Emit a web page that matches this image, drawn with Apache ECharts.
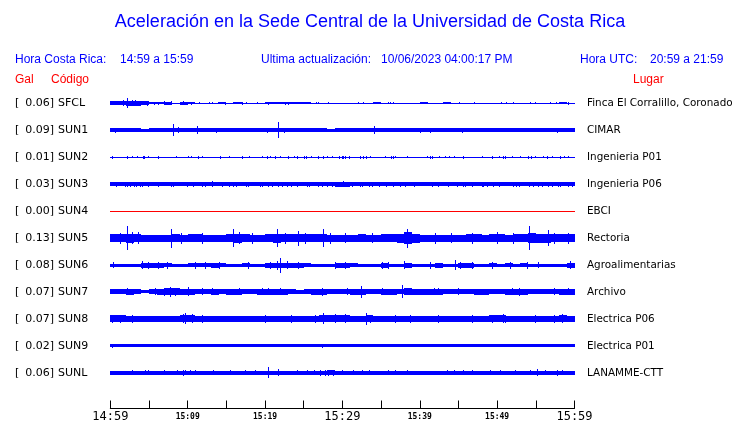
<!DOCTYPE html>
<html><head><meta charset="utf-8">
<script src="https://cdn.jsdelivr.net/npm/echarts@6/dist/echarts.min.js"></script>
<style>html,body{margin:0;padding:0;background:#fff}#c{width:740px;height:423px}</style>
</head><body><div id="c"></div>
<script>
// ---- data ----
const codes = ['SFCL','SUN1','SUN2','SUN3','SUN4','SUN5','SUN6','SUN7','SUN8','SUN9','SUNL'];
const galPeaks = ['0.06','0.09','0.01','0.03','0.00','0.13','0.08','0.07','0.07','0.02','0.06'];
const places = ['Finca El Corralillo, Coronado','CIMAR','Ingenieria P01','Ingenieria P06','EBCI','Rectoria','Agroalimentarias','Archivo','Electrica P06','Electrica P01','LANAMME-CTT'];
const tickLabels = ['14:59','15:04','15:09','15:14','15:19','15:24','15:29','15:34','15:39','15:44','15:49','15:54','15:59'];

// envelope half-amplitude per minute (60 minutes from 14:59) and spikes [minute, half-amplitude]
const sfclBand = [2,2,2.5,2.5,2, 1,1,1.5,0.5,1.5, 1,0.5,0.5,0.5,1, 0.5,1.2,0.5,0.5,0.5, 1.2,1.2,0.8,1.2,1.2, 1.2,0.5,0.5,0.5,0.5, 0.5,0.5,0.5,0.5,1.2, 0.5,0.5,0.5,0.5,0.5, 1,0.5,0.5,1.2,0.5, 0.5,0.5,0.5,0.5,0.5, 0.5,0.5,0.5,0.5,0.5, 0.5,0.5,0.5,1,0.5];
const sfclSpikes = [[1.7,3],[2.2,5],[2.8,3],[3.2,3],[3.6,2.5],[4.7,2.5],[5.6,1.5],[6.2,1.5],[7,2],[7.9,2],[9.4,2],[10.4,1.5],[11.5,1],[12.8,1],[13.2,1],[13.9,1],[14.8,1.3],[15.8,1],[17,1.5],[17.6,1],[18.9,1],[20.4,1.5],[22.6,1.5],[23,1.5],[26.6,1],[26.9,1],[28.1,1],[32,1],[32.6,1],[34.9,1],[35.9,1],[36.2,1],[36.6,1.2],[40,1],[40.4,1.2],[45.1,1],[47,1],[50.5,1],[51.2,1],[52,1],[54.2,1],[54.9,1],[56.8,1],[57.6,1],[59.1,1.5]];
const sun1Band = [2,2,1.8,2,1.5, 2,1.8,2,2,2, 2,2,2,2,2, 1.8,2,1.8,2,1.8, 2,2,2,2,1.8, 2,2,2,1.5,2, 1.8,2,2,2,2, 2,2,2,1.8,2, 2,2,1.8,2,2, 2,2,2,2,2, 2,1.8,2,2,2, 1.8,2,2,2,2];
const sun1Spikes = [[0.6,2.5],[8.1,6],[8.8,3],[11.2,4],[13.7,2.5],[20.2,2.5],[21.7,8],[22.4,2.5],[34.1,4],[40,2.5],[41.3,2.5],[45.4,2.5],[57.8,2.5]];
const sun2Band = [0.6,0.6,0.6,0.6,0.6, 0.6,0.6,0.6,0.6,0.6, 0.6,0.6,0.6,0.6,0.6, 0.6,0.6,0.6,0.6,0.6, 0.6,0.6,0.6,0.6,0.6, 0.6,0.6,0.6,0.6,0.6, 0.6,0.6,0.6,0.6,0.6, 0.6,0.6,0.6,0.6,0.6, 0.6,0.6,0.6,0.6,0.6, 0.6,0.6,0.6,0.6,0.6, 0.6,0.6,0.6,0.6,0.6, 0.6,0.6,0.6,0.6,0.6];
const sun2Spikes = [[0.17,1.5],[2.1,1.5],[2.2,1.5],[2.8,1.2],[3.5,1.2],[4.2,1.5],[4.4,1.5],[4.9,1.2],[6.2,1.5],[8.5,1.2],[10.1,1.2],[10.4,1.2],[11.3,1.5],[11.9,1.2],[14.2,1.5],[15.3,1.2],[17,1.5],[17.9,1.2],[19.6,1.2],[20.3,1.5],[20.7,1.2],[21.3,1.5],[21.9,1.2],[23,1.5],[23.8,1.2],[24.1,1.5],[25.1,1.7],[25.3,1.7],[25.9,1.2],[26.8,1.5],[27.5,1.5],[28,1.2],[28.6,1.2],[29.5,1.5],[29.9,1.7],[30.1,1.7],[30.3,1.7],[30.8,1.5],[32.3,1.5],[32.7,1.7],[33.1,1.5],[33.6,1.2],[35.5,1.2],[36.3,1.5],[36.5,1.5],[36.8,1.2],[38.3,1.2],[40.9,1.2],[41.3,1.5],[41.6,1.5],[42.5,1.2],[43.3,1.2],[43.8,1.2],[44.4,1.2],[45.6,1.5],[48,1.2],[49.3,1.5],[50.2,1.2],[50.7,1.5],[51,1.5],[51.9,1.2],[52.9,1.2],[54,1.5],[54.4,1.5],[54.9,1.2],[55.9,1.2],[56.4,1.5],[57.1,1.2],[58.1,1.5],[58.7,1.2],[59.1,1.2]];
const sun3Band = [1.8,1.8,1.8,1.8,1.8, 1.8,1.8,1.8,1.8,1.8, 1.8,1.8,1.8,1.8,1.8, 1.8,1.8,1.8,1.8,1.8, 1.8,1.8,1.8,1.8,1.8, 1.8,1.8,1.8,1.8,2.5, 2.5,2.2,1.8,1.8,1.8, 1.8,1.8,1.8,1.8,1.8, 1.8,1.8,1.8,1.8,1.8, 1.8,1.8,1.8,1.8,1.8, 1.8,1.8,1.8,1.8,1.8, 1.8,1.8,1.8,1.8,1.8];
const sun3Spikes = [[0.8,2.5],[1.9,2.5],[2.1,2.5],[2.5,2.5],[3,2.5],[3.3,2.5],[3.8,2.5],[4.1,2.5],[4.9,2.5],[6.2,2.5],[7.8,2.5],[8.1,2.5],[9.9,2.5],[10.7,2.5],[11.8,2.5],[12.2,2.5],[13.1,3],[14.4,2.5],[15.3,2.5],[15.9,2.5],[16.3,2.5],[17.6,2.5],[17.8,2.5],[19.4,2.5],[19.6,2.5],[20.4,2.5],[20.9,2.5],[21.7,2.5],[22.2,2.5],[22.8,2.5],[23.4,2.5],[24.1,2.5],[25.4,2.5],[25.7,2.5],[26.9,2.5],[27.3,2.5],[28,2.5],[28.6,2.5],[29.7,2.5],[30.1,3],[30.3,2.5],[31.2,2.5],[32.3,2.5],[32.5,2.5],[33.4,2.5],[33.8,2.5],[34.7,2.5],[35.7,2.5],[36.6,2.5],[37.5,2.5],[38.1,2.5],[39.2,2.5],[41.6,2.5],[42.4,2.5],[43.7,2.5],[44.8,2.5],[45.6,2.5],[45.9,2.5],[46.7,2.5],[48,2.5],[48.2,2.5],[48.7,2.5],[49.5,2.5],[50.2,2.5],[52.1,2.5],[52.5,2.5],[52.8,2.5],[54.1,2.5],[54.7,2.5],[55.3,2.5],[55.8,2.5],[56.6,2.5],[57.1,2.5],[57.9,2.5],[58.1,2.5],[59.2,2.5],[59.7,2.5]];
const sun4Band = [0,0,0,0,0, 0,0,0,0,0, 0,0,0,0,0, 0,0,0,0,0, 0,0,0,0,0, 0,0,0,0,0, 0,0,0,0,0, 0,0,0,0,0, 0,0,0,0,0, 0,0,0,0,0, 0,0,0,0,0, 0,0,0,0,0];
const sun4Spikes = [];
const sun5Band = [4,4,4.5,4,3.5, 3.5,3.5,3.5,4,3.5, 4,4,3.5,3.5,3.5, 4,4.5,4,3.5,3.5, 4,4.5,4,4,4, 4,4,4,3.5,3.5, 3.5,3.5,4,3.5,3.5, 4,4,4.5,6,4.5, 3.5,3.5,3.5,3.5,3.5, 3.5,4,4,3.5,4, 4,3.5,4,4,5, 4.5,4.5,4,4,4];
const sun5Spikes = [[1.25,5.5],[2.2,12],[2.8,6],[3.6,6],[7.8,9.5],[9.2,5.5],[11.8,5.5],[15.9,9],[16.6,6],[18.3,5.5],[21.5,9],[22.6,5.5],[24.2,7.5],[25.2,5.5],[27.5,9],[28.4,5.5],[30.3,5],[33.8,5],[38.3,9.5],[42,5.5],[44.1,5],[46.7,5.5],[50,6],[52.1,5.5],[54.1,12],[56.6,8],[57.3,5.5],[59.2,5.5]];
const sun6Band = [1.7,1.7,1.7,1.7,2.5, 2.5,2.5,2,1.7,1.7, 2,2,2,2.5,2, 1.7,1.7,2,1.7,1.7, 2.5,2.5,2.7,2.5,2.5, 2,1.7,1.7,1.7,2.5, 2.5,2,1.7,1.7,1.7, 2.5,1.7,1.7,2.5,1.7, 1.7,1.7,2.5,1.7,1.7, 2.5,2.5,1.7,1.7,2, 1.7,2,1.7,2,1.7, 1.7,1.7,1.7,1.7,2.5];
const sun6Spikes = [[0.4,3],[4.1,4],[4.9,3.5],[6.2,3.5],[7.3,3.5],[10.9,3.5],[12.2,3.5],[14,3.5],[17.8,3.5],[20.6,3.5],[21.5,4.5],[21.9,7.3],[22.8,4],[24.3,3.5],[29,3.5],[30.3,3.5],[35.1,3.5],[35.9,3.5],[38,4],[41.3,3.5],[44.5,5],[45.2,3.5],[46.7,3.5],[49.3,3.5],[51.7,3.5],[53.8,3.5],[55.3,3],[59.4,4]];
const sun7Band = [2.3,2.3,2.8,2.3,1.5, 2.5,2.8,3.3,3.3,2.8, 2.8,2.5,2.5,2.8,2.5, 2.8,2.8,2.5,2.5,2.8, 2.8,2.8,2.8,2.5,1.8, 2.5,2.8,2.8,2.5,2.5, 2.5,2.8,2.8,2.5,2.5, 2.8,2.8,2.5,3.3,2.8, 2.8,2.8,2.8,2.5,2.5, 2.5,2.5,2.8,2.8,2.5, 2.5,2.8,2.8,2.8,2.5, 2.5,2.5,2.5,2.8,2.8];
const sun7Spikes = [[2.1,3.5],[5.8,3.5],[6.9,4],[7.7,5],[8.4,4],[10,4.5],[11.8,3.5],[13.1,3.5],[16.6,3.5],[19.6,3.5],[20.4,3.5],[21.9,3.5],[27.3,4],[30.6,3.5],[32.4,6],[35.1,3.5],[37.7,6.5],[41.8,3.5],[42.4,3.5],[45,3.5],[51.9,3.5],[52.8,4],[57.3,3.5],[59.2,3.5]];
const sun8Band = [3.4,3.4,3.2,2.9,2.9, 2.9,2.9,2.9,2.9,3.4, 3.4,3.2,2.9,2.9,2.9, 2.9,2.9,2.9,2.9,2.9, 3.2,2.9,2.9,2.9,2.9, 2.9,3.2,3.4,3.4,3.4, 3.4,3.2,2.9,3.4,2.9, 2.9,2.9,2.9,2.9,3.2, 2.9,2.9,2.9,2.9,2.9, 2.9,2.9,2.9,3.2,3.4, 3.4,2.9,2.9,2.9,3.2, 2.9,2.9,3.2,3.4,3.2];
const sun8Spikes = [[0.2,4],[1.25,4],[2.8,4],[9.4,4.5],[9.7,5.3],[10.5,4.5],[11.9,4],[20,4],[23.4,4],[26.5,4],[27.5,5.3],[29,4.5],[30.3,4.5],[33.1,6],[33.6,4],[36.8,4],[38.8,4],[42.4,4],[46.7,4],[49.3,4],[50.8,4.5],[51,4],[54.9,4],[57.3,4],[58.4,4.5]];
const sun9Band = [1.3,1.3,1.3,1.3,1.3, 1.3,1.3,1.3,1.3,1.3, 1.3,1.3,1.3,1.3,1.3, 1.3,1.3,1.3,1.3,1.3, 1.3,1.3,1.3,1.3,1.3, 1.3,1.3,1.3,1.3,1.3, 1.3,1.3,1.3,1.3,1.3, 1.3,1.3,1.3,1.3,1.3, 1.3,1.3,1.3,1.3,1.3, 1.3,1.3,1.3,1.3,1.3, 1.3,1.3,1.3,1.3,1.3, 1.3,1.3,1.3,1.3,1.3];
const sun9Spikes = [[0.2,1.8],[11.8,1.6],[27.3,2],[45,1.6]];
const sunlBand = [2,2,2,2,2, 2,2,2,2,2, 2,2,2,2,2, 2,2,2,2,2, 2,2,2,2,2, 2,2,2,2.6,2, 2,2,2,2,2, 2,2,2,2,2, 2,2,2,2,2, 2,2,2,2,2, 2,2,2,2,2, 2,2,2,2,2];
const sunlSpikes = [[2.8,2.5],[4.5,2.5],[4.9,2.5],[6.9,2.5],[8.6,2.5],[9.4,3],[9.7,2.5],[10.3,2.5],[10.9,2.5],[13.3,2.5],[15.5,2.5],[17.4,2.5],[18.7,2.5],[20.4,5.5],[21.7,3.5],[24.1,2.5],[25.4,2.5],[26.3,2.5],[27.1,3],[27.8,3],[28.2,3],[28.8,3],[29.9,2.5],[31.4,2.5],[32.5,2.5],[33.4,2.5],[35.9,2.5],[36.8,2.5],[38.3,2.5],[43.5,2.5],[44.4,2.5],[45.6,2.5],[46.7,2.5],[49.1,2.5],[50.4,2.5],[52.3,2.5],[54.3,2.5],[55.1,3.5],[56.2,2.5],[57.7,3],[58.4,2.5]];

const bands = [sfclBand,sun1Band,sun2Band,sun3Band,sun4Band,sun5Band,sun6Band,sun7Band,sun8Band,sun9Band,sunlBand];
const spikes = [sfclSpikes,sun1Spikes,sun2Spikes,sun3Spikes,sun4Spikes,sun5Spikes,sun6Spikes,sun7Spikes,sun8Spikes,sun9Spikes,sunlSpikes];

// ---- chart ----
const SPACING = 27;
const BLUE = '#0000ff', RED = '#ff0000';
const chart = echarts.init(document.getElementById('c'), null, {renderer:'canvas'});

function bandItem(offset, color){
  return function(params, api){
    const m = api.value(0), a = api.value(1);
    const p0 = api.coord([m, offset]);
    const p1 = api.coord([m + 1, offset]);
    const h = Math.max(1, Math.round(api.size([1, 2*a])[1]));
    const y = Math.round(p0[1] - h/2);
    const x0 = Math.round(p0[0]), x1 = Math.round(p1[0]);
    return {type:'rect', shape:{x:x0, y:y, width:Math.max(1,x1-x0), height:h}, style:{fill:color}, silent:true};
  };
}
function spikeItem(offset, color){
  return function(params, api){
    const t = api.value(0), a = api.value(1);
    const p = api.coord([t, offset]);
    const h = Math.max(1, Math.round(api.size([1, 2*a])[1]));
    return {type:'rect', shape:{x:Math.round(p[0]), y:Math.round(p[1]-h/2), width:1, height:h}, style:{fill:color}, silent:true};
  };
}

const series = [];
codes.forEach((c, i) => {
  const off = i * SPACING;
  const color = codes[i] === 'SUN4' ? RED : BLUE;
  series.push({type:'custom', name:c+'-band', renderItem:bandItem(off,color), data:bands[i].map((v,m)=>[m,v]), animation:false, clip:false});
  if (spikes[i].length) series.push({type:'custom', name:c+'-spk', renderItem:spikeItem(off,color), data:spikes[i], animation:false, clip:false});
});

const bigMinutes = [0,30,60], smallMinutes = [10,20,40,50];
chart.setOption({
  animation:false,
  backgroundColor:'#ffffff',
  grid:{left:110.3, right:165.5, top:76.3, bottom:14, containLabel:false},
  xAxis:{type:'value', min:0, max:60, interval:5,
    axisLine:{show:true, onZero:false, lineStyle:{color:'#000', width:1}},
    axisTick:{show:true, inside:true, length:8, lineStyle:{color:'#000', width:1}},
    splitLine:{show:false},
    axisLabel:{show:true, margin:2, showMinLabel:true, showMaxLabel:true,
      formatter:function(v){
        const idx = Math.round(v/5);
        if (bigMinutes.indexOf(v) >= 0) return '{b|' + tickLabels[idx] + '}';
        if (smallMinutes.indexOf(v) >= 0) return '{s|' + tickLabels[idx] + '}';
        return '';
      },
      rich:{
        b:{fontFamily:'DejaVu Sans Mono', fontSize:12, color:'#000', lineHeight:13},
        s:{fontFamily:'DejaVu Sans Mono', fontWeight:'bold', fontSize:8, color:'#000', lineHeight:13}
      }
    }
  },
  yAxis:{type:'value', inverse:true, min:-SPACING, max:10*SPACING + 35.7, show:false},
  series:series
});

// ---- texts ----
const g = [];
g.push({type:'text', left:'center', top:13, style:{text:'Aceleración en la Sede Central de la Universidad de Costa Rica', font:'18px "Liberation Sans"', fill:BLUE}});
const hf = '12px "Liberation Sans"';
g.push({type:'text', x:15, y:60, style:{text:'Hora Costa Rica:', font:hf, fill:BLUE, verticalAlign:'middle'}});
g.push({type:'text', x:120, y:60, style:{text:'14:59 a 15:59', font:hf, fill:BLUE, verticalAlign:'middle'}});
g.push({type:'text', x:261, y:60, style:{text:'Ultima actualización:', font:hf, fill:BLUE, verticalAlign:'middle'}});
g.push({type:'text', x:381, y:60, style:{text:'10/06/2023 04:00:17 PM', font:hf, fill:BLUE, verticalAlign:'middle'}});
g.push({type:'text', x:580, y:60, style:{text:'Hora UTC:', font:hf, fill:BLUE, verticalAlign:'middle'}});
g.push({type:'text', x:650, y:60, style:{text:'20:59 a 21:59', font:hf, fill:BLUE, verticalAlign:'middle'}});
g.push({type:'text', x:15, y:80, style:{text:'Gal', font:hf, fill:RED, verticalAlign:'middle'}});
g.push({type:'text', x:51, y:80, style:{text:'Código', font:hf, fill:RED, verticalAlign:'middle'}});
g.push({type:'text', x:633, y:80, style:{text:'Lugar', font:hf, fill:RED, verticalAlign:'middle'}});
const lf = '11px "DejaVu Sans"';
const rf = '10.4px "DejaVu Sans"';
codes.forEach((c, i) => {
  const y = chart.convertToPixel({gridIndex:0}, [0, i*SPACING])[1];
  g.push({type:'text', x:15, y:y, style:{text:'[', font:lf, fill:'#000', verticalAlign:'middle'}});
  g.push({type:'text', x:54, y:y, style:{text:galPeaks[i] + ']', font:lf, fill:'#000', align:'right', verticalAlign:'middle'}});
  g.push({type:'text', x:58, y:y, style:{text:c, font:lf, fill:'#000', verticalAlign:'middle'}});
  g.push({type:'text', x:587, y:y, style:{text:places[i], font:rf, fill:'#000', verticalAlign:'middle'}});
});
chart.setOption({graphic:g});
</script></body></html>
